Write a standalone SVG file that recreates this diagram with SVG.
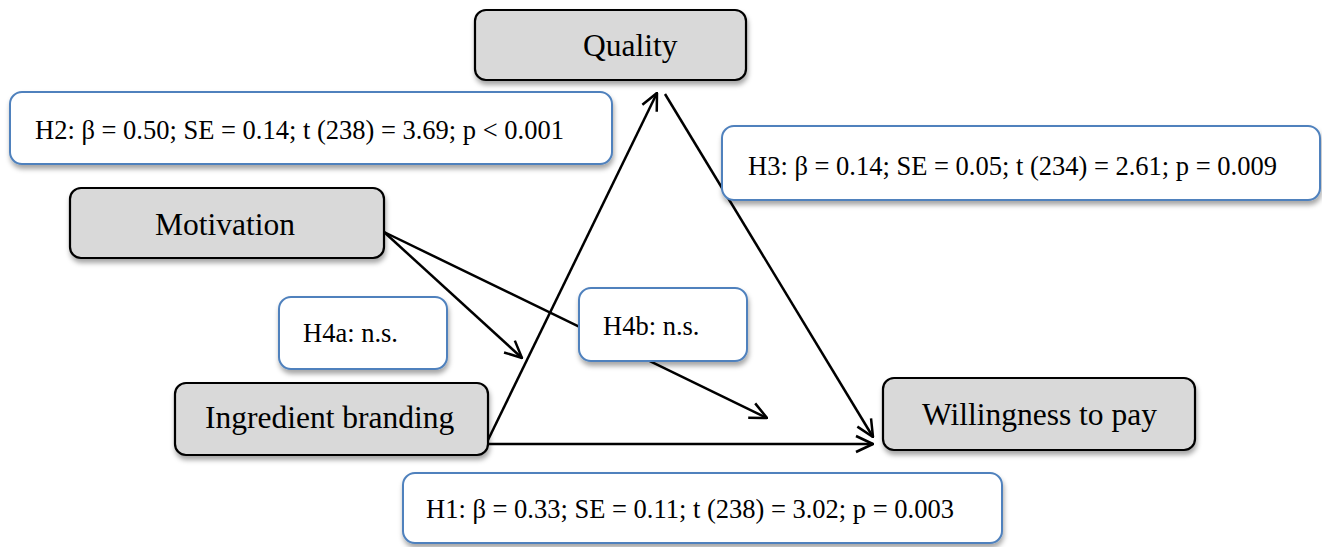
<svg xmlns="http://www.w3.org/2000/svg" width="1322" height="547" viewBox="0 0 1322 547">
<style>
.node{fill:#d9d9d9;stroke:#000;stroke-width:2.2;filter:url(#sh)}
.lab{fill:#fff;stroke:#4f81bd;stroke-width:2;filter:url(#sh)}
.nt{font-family:"Liberation Serif","Times New Roman",serif;font-size:31.5px;fill:#000}
.lt{font-family:"Liberation Serif","Times New Roman",serif;font-size:26.5px;fill:#000}
.c{stroke:#000;stroke-width:2.5;fill:none;marker-end:url(#ah)}
</style>
<defs>
<filter id="sh" x="-10%" y="-20%" width="120%" height="150%">
<feDropShadow dx="1" dy="4" stdDeviation="2.5" flood-color="#000" flood-opacity="0.35"/>
</filter>
<marker id="ah" viewBox="0 0 20 20" refX="19" refY="10" markerWidth="20" markerHeight="20" markerUnits="userSpaceOnUse" orient="auto">
<path d="M2,2 L19,10 L2,18" fill="none" stroke="#000" stroke-width="2.5"/>
</marker>
</defs>
<g id="connectors">
<line class="c" x1="488" y1="440" x2="657" y2="93"/>
<line class="c" x1="665" y1="94" x2="873" y2="437"/>
<line class="c" x1="488" y1="444" x2="873" y2="444"/>
<line class="c" x1="384" y1="232" x2="522" y2="358"/>
<line class="c" x1="384" y1="232" x2="767" y2="418"/>
</g>
<g id="quality"><rect class="node" x="475" y="10" width="271" height="70" rx="11"/><text class="nt" x="583" y="56">Quality</text></g>
<g id="motivation"><rect class="node" x="70" y="188" width="314" height="70" rx="11"/><text class="nt" x="155" y="235">Motivation</text></g>
<g id="ingredient"><rect class="node" x="175" y="383" width="313" height="72" rx="11"/><text class="nt" x="205" y="428">Ingredient branding</text></g>
<g id="wtp"><rect class="node" x="883" y="378" width="312" height="72" rx="11"/><text class="nt" x="922" y="425">Willingness to pay</text></g>
<g id="h2"><rect class="lab" x="10" y="92" width="602" height="72" rx="12"/><text class="lt" x="35" y="139">H2: β = 0.50; SE = 0.14; t (238) = 3.69; p &lt; 0.001</text></g>
<g id="h3"><rect class="lab" x="722" y="126" width="598" height="74" rx="12"/><text class="lt" x="748" y="175">H3: β = 0.14; SE = 0.05; t (234) = 2.61; p = 0.009</text></g>
<g id="h4a"><rect class="lab" x="279" y="297" width="168" height="72" rx="12"/><text class="lt" x="303" y="342">H4a: n.s.</text></g>
<g id="h4b"><rect class="lab" x="579" y="288" width="168" height="73" rx="12"/><text class="lt" x="603" y="335">H4b: n.s.</text></g>
<g id="h1"><rect class="lab" x="403" y="473" width="599" height="70" rx="12"/><text class="lt" x="426" y="518">H1: β = 0.33; SE = 0.11; t (238) = 3.02; p = 0.003</text></g>
</svg>
